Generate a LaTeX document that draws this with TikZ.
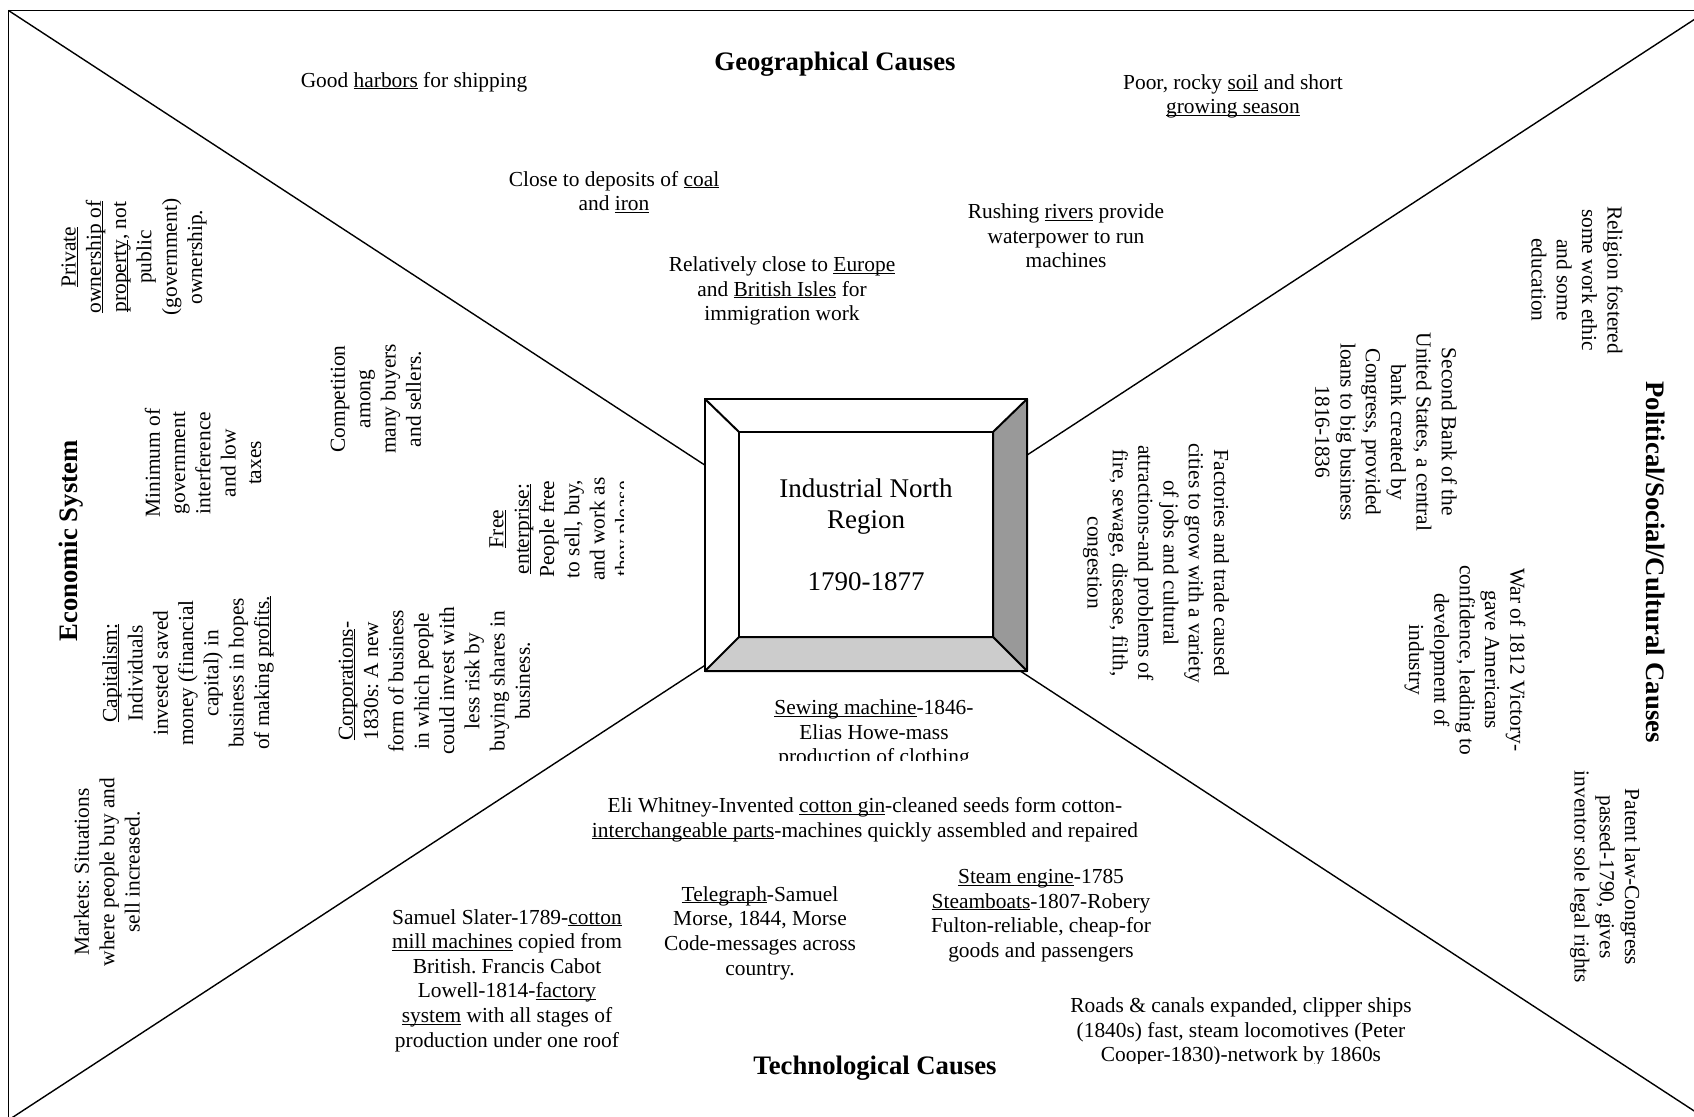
\documentclass[tikz,border=0pt]{standalone}
\usepackage{fontspec}
\setmainfont{Liberation Serif}
\frenchspacing
\newcommand{\keyword}[1]{\underline{\raisebox{0pt}[\height][0pt]{#1}}}
\colorlet{bevel dark color}{black!40}
\colorlet{bevel light color}{black!20}
\tikzset{
    x={1pt},
    y={-1pt},
    outer frame/.style={
        draw=black,
        line width={1.8pt},
    },
    diagonal/.style={
        draw=black,
        line width={1.4pt},
    },
    cause/.style={
        font={\fontsize{21.4}{24.6}\selectfont},
        align=center,
        inner sep=0pt,
        outer sep=0pt,
    },
    side cause/.style={
        cause,
        font={\fontsize{21.4}{25.3}\selectfont},
    },
    left cause/.style={side cause, rotate=90},
    right cause/.style={side cause, rotate=-90},
    heading/.style={
        font={\fontsize{26.7}{31}\selectfont\bfseries},
        inner sep=0pt,
        outer sep=0pt,
    },
    left heading/.style={heading, rotate=90},
    right heading/.style={heading, rotate=-90},
    region box/.style={
        draw=black, fill=white,
        line width={2pt},
        inner sep=0pt, outer sep=0pt,
    },
    region outer/.style={
        region box,
        minimum width={322},
        minimum height={272},
    },
    region inner/.style={
        region box,
        minimum width={254},
        minimum height={205},
        align=center,
        font={\fontsize{27}{31}\selectfont},
    },
    bevel/.style={
        draw=black, fill={#1},
        line width={2pt},
        line join=round,
    },
    bevel/.default={white},
}

\begin{document}
\begin{tikzpicture}
\useasboundingbox (0,0) rectangle (1694,1116);
\clip (0,0) rectangle (1694,1116);
% frame
\coordinate (frame nw) at (8.5,10.5);
\coordinate (frame ne) at (1708,10.5);
\coordinate (frame sw) at (8.5,1120);
\coordinate (frame se) at (1708,1120);
\path[outer frame] (frame nw) rectangle (frame se);
\path[diagonal] (frame nw) -- (frame se);
\path[diagonal] (frame ne) -- (frame sw);
% region box
\node[region outer] (outer) at (866,535) {};
\node[region inner] (inner) at (866,534.5) {Industrial North\\Region\\[31pt]1790-1877};
\path[bevel=bevel dark color] (outer.north east) -- (inner.north east) -- (inner.south east) -- (outer.south east) -- cycle;
\path[bevel=bevel light color] (outer.south west) -- (inner.south west) -- (inner.south east) -- (outer.south east) -- cycle;
\path[bevel] (outer.north west) -- (inner.north west);
% geographical causes
\node[heading] (geo) at (835,64) {Geographical Causes};
\node[cause] (harbors) at (414,82) {Good \keyword{harbors} for shipping};
\node[cause] (soil) at (1233,95) {Poor, rocky \keyword{soil} and short\\\keyword{growing season}};
\node[cause] (coal) at (614,192) {Close to deposits of \keyword{coal}\\and \keyword{iron}};
\node[cause] (rivers) at (1066,236) {Rushing \keyword{rivers} provide\\waterpower to run\\machines};
\node[cause] (europe) at (782,291) {Relatively close to \keyword{Europe}\\and \keyword{British Isles} for\\immigration work};
% economic system
\node[left heading] (econ) at (71,541) {Economic System};
\node[left cause] (private) at (134,257) {\keyword{Private}\\\keyword{ownership of}\\\keyword{property}, not\\public\\(government)\\ownership.};
\node[left cause] (minimum) at (203,463) {Minimum of\\government\\interference\\and low\\taxes};
\node[left cause] (competition) at (376,399) {Competition\\among\\many buyers\\and sellers.};
\begin{scope}
\clip (470,440) rectangle (623,620);
\node[left cause] (enterprise) at (562,529) {\keyword{Free}\\\keyword{enterprise:}\\People free\\to sell, buy,\\and work as\\they please};
\end{scope}
\node[left cause] (capitalism) at (188,673) {\keyword{Capitalism:}\\Individuals\\invested saved\\money (financial\\capital) in\\business in hopes\\of making \keyword{profits.}};
\node[left cause] (corporations) at (434.5,681) {\keyword{Corporations}-\\1830s: A new\\form of business\\in which people\\could invest with\\less risk by\\buying shares in\\business.};
\node[left cause] (markets) at (107,872) {Markets: Situations\\where people buy and\\sell increased.};
% political/social/cultural causes
\node[right heading] (political) at (1656,562) {Political/Social/Cultural Causes};
\node[right cause] (religion) at (1577,280) {Religion fostered\\some work ethic\\and some\\education};
\node[right cause] (bank) at (1386,432) {Second Bank of the\\United States, a central\\bank created by\\Congress, provided\\loans to big business\\1816-1836};
\node[right cause] (factories) at (1156,563) {Factories and trade caused\\cities to grow with a variety\\of jobs and cultural\\attractions-and problems of\\fire, sewage, disease, filth,\\congestion};
\node[right cause] (war) at (1465,660) {War of 1812 Victory-\\gave Americans\\confidence, leading to\\development of\\industry};
\node[right cause] (patent) at (1605,877) {Patent law-Congress\\passed-1790, gives\\inventor sole legal rights};
% technological causes
\begin{scope}
\clip (700,690) rectangle (1050,760);
\node[cause] (sewing) at (874,734) {\keyword{Sewing machine}-1846-\\Elias Howe-mass\\production of clothing};
\end{scope}
\node[cause] (whitney) at (865,819.5) {Eli Whitney-Invented \keyword{cotton gin}-cleaned seeds form cotton-\\\keyword{interchangeable parts}-machines quickly assembled and repaired};
\node[cause] (telegraph) at (760,933) {\keyword{Telegraph}-Samuel\\Morse, 1844, Morse\\Code-messages across\\country.};
\node[cause] (slater) at (507,980.5) {Samuel Slater-1789-\keyword{cotton}\\\keyword{mill machines} copied from\\British. Francis Cabot\\Lowell-1814-\keyword{factory}\\\keyword{system} with all stages of\\production under one roof};
\node[cause] (steam) at (1041,915.5) {\keyword{Steam engine}-1785\\\keyword{Steamboats}-1807-Robery\\Fulton-reliable, cheap-for\\goods and passengers};
\begin{scope}
\clip (1000,980) rectangle (1500,1063);
\node[cause] (roads) at (1241,1032) {Roads \& canals expanded, clipper ships\\(1840s) fast, steam locomotives (Peter\\Cooper-1830)-network by 1860s};
\end{scope}
\node[heading] (tech) at (875,1068) {Technological Causes};
\end{tikzpicture}
\end{document}
